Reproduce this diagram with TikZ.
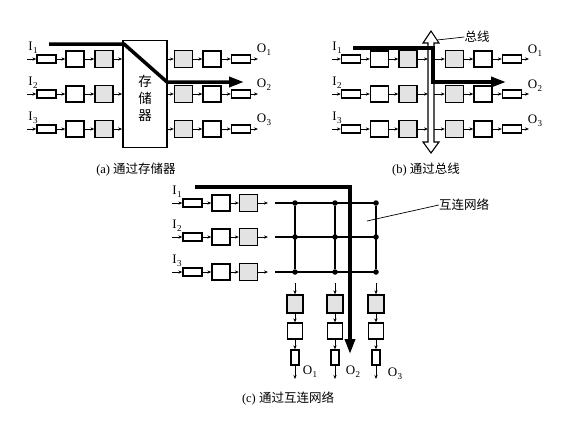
\documentclass[tikz,border=0pt]{standalone}
\usepackage{fontspec}
\setmainfont{Liberation Serif}
\newfontfamily\cjk{Noto Sans CJK SC}
\usetikzlibrary{arrows.meta}
\newcommand\sublab[2]{#1\kern0.2pt\raisebox{-2.8pt}{\fontsize{9}{9}\selectfont #2}}
\tikzset{
 bx/.style={draw, line width=1.3pt, inner sep=0pt},
 smallbox/.style={bx, minimum width=19pt, minimum height=8pt},
 medbox/.style={bx, minimum width=18pt, minimum height=16pt},
 shadebox/.style={bx, fill=gray!22, minimum width=18pt, minimum height=17pt},
 vsmallbox/.style={bx, minimum width=8pt, minimum height=15pt},
 vmedbox/.style={bx, minimum width=15pt, minimum height=16pt},
 vshadebox/.style={bx, fill=gray!22, minimum width=16pt, minimum height=18pt},
 sarrow/.style={-{Stealth[length=4pt,width=3.2pt]}, line width=0.7pt},
 bigarrow/.style={-{Triangle[length=15pt,width=10pt]}, line width=3.5pt, line join=miter},
 gridline/.style={line width=1.6pt},
 lab/.style={font=\fontsize{13}{13}\selectfont, inner sep=0pt},
 cjklab/.style={font=\cjk\fontsize{12.5}{12.5}\selectfont, inner sep=0pt},
 caption/.style={font=\fontsize{12.5}{12.5}\selectfont, inner sep=0pt},
 dot/.style={circle, fill, inner sep=0pt, minimum size=5.5pt},
}
\begin{document}
\begin{tikzpicture}[x=1pt,y=-1pt]
\useasboundingbox (0,0) rectangle (568,424);

% ---------------- (a) via memory ----------------
\node[draw, line width=1.7pt, minimum width=44pt, minimum height=107pt, inner sep=0pt] (mem) at (145,94) {};
\node[font=\cjk\fontsize{13.5}{17}\selectfont, align=center, inner sep=0pt] (memtxt) at (145,98) {存\\储\\器};
\foreach \i/\y in {1/59,2/94,3/129}{
 \coordinate (ain\i) at (27,\y);
 \node[smallbox] (as\i) at (46.5,\y) {};
 \node[medbox] (am\i) at (75,\y) {};
 \node[shadebox] (ah\i) at (104,\y) {};
 \node[shadebox] (ar\i) at (183.5,\y) {};
 \node[medbox] (arm\i) at (212,\y) {};
 \node[smallbox] (ars\i) at (241,\y) {};
 \coordinate (aout\i) at (258,\y);
 \draw[sarrow] (ain\i) -- (as\i);
 \draw[sarrow] (as\i) -- (am\i);
 \draw[sarrow] (am\i) -- (ah\i);
 \draw[sarrow] (ah\i) -- (ah\i -| mem.west);
 \draw[sarrow] (mem.east |- ar\i) -- (ar\i);
 \draw[sarrow] (ar\i) -- (arm\i);
 \draw[sarrow] (arm\i) -- (ars\i);
 \draw[sarrow] (ars\i) -- (aout\i);
 \node[lab] (aI\i) at (33,\y-11) {\sublab{I}{\i}};
 \node[lab] (aO\i) at (264,\y-9) {\sublab{O}{\i}};
}
\coordinate (ap0) at (49,44);
\coordinate (ap1) at (124,44);
\coordinate (ap2) at (167,82);
\coordinate (ap3) at (244,82);
\draw[bigarrow] (ap0) -- (ap1) -- (ap2) -- (ap3);
\node[caption] (capa) at (136,170) {(a) {\cjk 通过存储器}};

% ---------------- (b) via bus ----------------
\draw[line width=1.1pt, fill=white] (431,31) -- (439,43) -- (434,43) -- (434,142) -- (439,142) -- (431,153) -- (423,142) -- (428,142) -- (428,43) -- (423,43) -- cycle;
\foreach \i/\y in {1/59,2/94,3/129}{
 \coordinate (bin\i) at (332,\y);
 \node[smallbox] (bs\i) at (351,\y) {};
 \node[medbox] (bm\i) at (379.5,\y) {};
 \node[shadebox] (bh\i) at (408,\y) {};
 \coordinate (busL\i) at (428,\y);
 \coordinate (busR\i) at (434,\y);
 \node[shadebox] (br\i) at (454.5,\y) {};
 \node[medbox] (brm\i) at (483,\y) {};
 \node[smallbox] (brs\i) at (512,\y) {};
 \coordinate (bout\i) at (529,\y);
 \draw[sarrow] (bin\i) -- (bs\i);
 \draw[sarrow] (bs\i) -- (bm\i);
 \draw[sarrow] (bm\i) -- (bh\i);
 \draw[sarrow] (bh\i) -- (busL\i);
 \draw[sarrow] (busR\i) -- (br\i);
 \draw[sarrow] (br\i) -- (brm\i);
 \draw[sarrow] (brm\i) -- (brs\i);
 \draw[sarrow] (brs\i) -- (bout\i);
 \node[lab] (bI\i) at (337,\y-11) {\sublab{I}{\i}};
 \node[lab] (bO\i) at (535,\y-8) {\sublab{O}{\i}};
}
\coordinate (bp0) at (353,48);
\coordinate (bp1) at (433,48);
\coordinate (bp2) at (433,82);
\coordinate (bp3) at (506,82);
\draw[bigarrow] (bp0) -- (bp1) -- (bp2) -- (bp3);
\node[cjklab] (buslab) at (477,37) {总线};
\coordinate (busleader) at (437,40);
\draw[line width=0.7pt] (buslab.west) -- (busleader);
\node[caption] (capb) at (426,170) {(b) {\cjk 通过总线}};

% ---------------- (c) via interconnection network ----------------
\foreach \i/\y in {1/203,2/237,3/272}{
 \coordinate (cin\i) at (172,\y);
 \node[smallbox] (cs\i) at (192.5,\y) {};
 \node[medbox] (cm\i) at (221,\y) {};
 \node[shadebox] (ch\i) at (248.5,\y) {};
 \coordinate (cout\i) at (268,\y);
 \draw[sarrow] (cin\i) -- (cs\i);
 \draw[sarrow] (cs\i) -- (cm\i);
 \draw[sarrow] (cm\i) -- (ch\i);
 \draw[sarrow] (ch\i) -- (cout\i);
 \node[lab] (cI\i) at (177,\y-11) {\sublab{I}{\i}};
 \coordinate (gl\i) at (275,\y);
 \coordinate (gr\i) at (378,\y);
 \draw[gridline] (gl\i) -- (gr\i);
 \foreach \j/\x in {1/295,2/335,3/376}{
  \node[dot] (d\i\j) at (\x,\y) {};
 }
}
\foreach \j/\x in {1/295,2/335,3/376}{
 \draw[gridline] (d1\j) -- (d3\j);
 \coordinate (ct\j) at (\x,283);
 \node[vshadebox] (ch2\j) at (\x,304) {};
 \node[vmedbox] (cvm\j) at (\x,331) {};
 \node[vsmallbox] (cvs\j) at (\x,357.5) {};
 \coordinate (cvo\j) at (\x,379);
 \draw[sarrow] (ct\j) -- (ch2\j);
 \draw[sarrow] (ch2\j) -- (cvm\j);
 \draw[sarrow] (cvm\j) -- (cvs\j);
 \draw[sarrow] (cvs\j) -- (cvo\j);
}
\node[lab] (cO1) at (310,372) {\sublab{O}{1}};
\node[lab] (cO2) at (353,372) {\sublab{O}{2}};
\node[lab] (cO3) at (395,374) {\sublab{O}{3}};
\coordinate (cp0) at (195,187);
\coordinate (cp1) at (350,187);
\coordinate (cp2) at (350,354);
\draw[bigarrow] (cp0) -- (cp1) -- (cp2);
\node[cjklab] (netlab) at (464,205) {互连网络};
\coordinate (netleader) at (367,221);
\draw[line width=0.7pt] (netlab.west) -- (netleader);
\node[caption] (capc) at (288,398) {(c) {\cjk 通过互连网络}};
\end{tikzpicture}
\end{document}
